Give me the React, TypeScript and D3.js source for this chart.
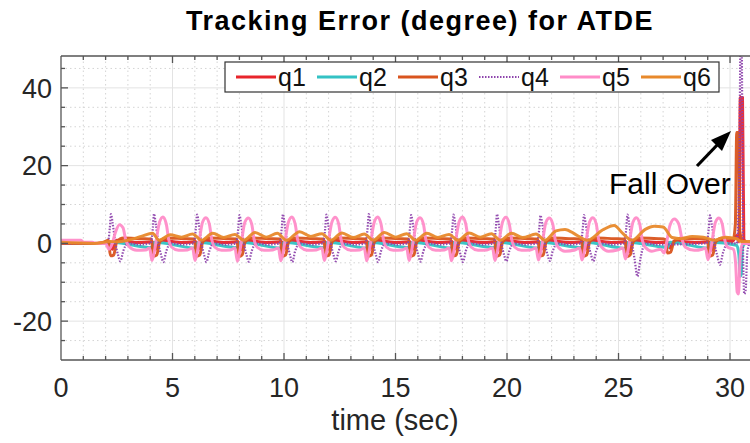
import React, { useEffect, useRef } from 'react';
import * as d3 from 'd3';

// series labels and colours
const seriesNames = ['q1', 'q2', 'q3', 'q4', 'q5', 'q6'];
const seriesColors = ['#e8242b', '#33c2c4', '#d9541e', '#8e44ad', '#ff8cc8', '#e8892b'];

const xTicks = [0, 5, 10, 15, 20, 25, 30];
const yTicks = [-20, 0, 20, 40];

// [time (sec), error (degree)]
const q1: [number, number][] = [
  [0, 0], [1.5, 0], [2.2, 0.3], [2.3, -1.5], [2.5, 0.8], [3.5, 0.2], [4.1, 0.4], [4.22, -1.6], [4.45, 0.8],
  [5.5, 0.2], [6.05, 0.4], [6.15, -1.5], [6.4, 0.8], [7.4, 0.2], [7.95, 0.4], [8.05, -1.7], [8.3, 0.8],
  [9.3, 0.2], [9.9, 0.4], [10.0, -1.5], [10.25, 0.8], [11.3, 0.2], [11.85, 0.4], [11.95, -1.6], [12.2, 0.8],
  [13.2, 0.2], [13.75, 0.4], [13.85, -1.5], [14.1, 0.8], [15.1, 0.2], [15.65, 0.4], [15.75, -1.6], [16.0, 0.8],
  [17.0, 0.2], [17.55, 0.4], [17.65, -1.5], [17.9, 0.8], [19.0, 0.2], [19.5, 0.4], [19.6, -1.7], [19.85, 0.8],
  [20.9, 0.2], [21.45, 0.4], [21.55, -1.5], [21.8, 0.8], [22.9, 0.2], [23.4, 0.4], [23.5, -1.6], [23.75, 0.8],
  [24.8, 0.2], [25.35, 0.4], [25.45, -2.2], [25.7, 0.8], [26.8, 0.2], [27.2, 0.3], [27.3, -1.2], [27.5, 0.6],
  [28.5, 0.2], [29.05, 0.4], [29.15, -1.8], [29.4, 0.8], [30.1, 0.5], [30.3, 2], [30.4, 0.5],
  [30.46, 37.5], [30.56, 37.5], [30.62, 1], [30.8, 0], [31.6, 0],
];

const q2: [number, number][] = [
  [0, 0], [1.8, 0], [2.3, 0.3], [4.1, -1.1], [4.2, 0.3], [6.05, -1.2], [6.15, 0.3], [7.95, -1.1], [8.05, 0.3],
  [9.9, -1.2], [10.0, 0.3], [11.85, -1.1], [11.95, 0.3], [13.75, -1.2], [13.85, 0.3], [15.65, -1.1],
  [15.75, 0.3], [17.55, -1.2], [17.65, 0.3], [19.5, -1.1], [19.6, 0.3], [21.45, -1.2], [21.55, 0.3],
  [23.4, -1.1], [23.5, 0.3], [25.35, -1.3], [25.45, 0.3], [27.2, -1.0], [27.3, 0.3], [29.05, -1.2],
  [29.15, 0.3], [30.3, -0.5], [30.4, -3], [30.45, -8.5], [30.5, -8], [30.56, -1], [30.7, 0], [31.6, 0],
];

const q3: [number, number][] = [
  [0, 0], [1.8, 0], [2.12, 0.8], [2.22, -3.2], [2.36, -3], [2.5, 0.4], [2.8, 1.4], [3.6, 1.2],
  [4.05, 1.1], [4.15, -3.3], [4.29, -3], [4.43, 0.4], [4.73, 1.4], [5.5, 1.2],
  [5.98, 1.1], [6.08, -3.3], [6.22, -3], [6.36, 0.4], [6.66, 1.4], [7.4, 1.2],
  [7.88, 1.1], [7.98, -3.4], [8.12, -3], [8.26, 0.4], [8.56, 1.4], [9.3, 1.2],
  [9.83, 1.1], [9.93, -3.3], [10.07, -3], [10.21, 0.4], [10.51, 1.4], [11.3, 1.2],
  [11.78, 1.1], [11.88, -3.2], [12.02, -3], [12.16, 0.4], [12.46, 1.4], [13.2, 1.2],
  [13.68, 1.1], [13.78, -3.3], [13.92, -3], [14.06, 0.4], [14.36, 1.4], [15.1, 1.2],
  [15.58, 1.1], [15.68, -3.3], [15.82, -3], [15.96, 0.4], [16.26, 1.4], [17.0, 1.2],
  [17.48, 1.1], [17.58, -3.2], [17.72, -3], [17.86, 0.4], [18.16, 1.4], [19.0, 1.2],
  [19.43, 1.1], [19.53, -3.3], [19.67, -3], [19.81, 0.4], [20.11, 1.4], [20.9, 1.2],
  [21.38, 1.1], [21.48, -3.2], [21.62, -3], [21.76, 0.4], [22.06, 1.4], [22.9, 1.2],
  [23.33, 1.1], [23.43, -3.3], [23.57, -3], [23.71, 0.4], [24.01, 1.4], [24.8, 1.2],
  [25.28, 1.1], [25.38, -3.4], [25.52, -3], [25.66, 0.4], [25.96, 1.4], [26.8, 1.2],
  [27.1, 1.0], [27.2, -2.5], [27.34, -2.2], [27.48, 0.4], [27.78, 1.3], [28.6, 1.2],
  [28.98, 1.1], [29.08, -3.3], [29.22, -3], [29.36, 0.4], [29.66, 1.4], [30.15, 1.2],
  [30.24, 5], [30.3, 28.5], [30.38, 28.5], [30.44, 3], [30.6, 0], [31.6, 0],
];

const q4: [number, number][] = [
  [0, 0], [1.0, 0], [2.09, 0], [2.19, 4], [2.24, 7.5], [2.32, 5], [2.44, 0], [2.56, -3], [2.66, -4.6], [2.79, -2], [2.99, 0], [3.54, -0.3],
  [4.02, 0], [4.12, 4], [4.17, 7.6], [4.25, 5], [4.37, 0], [4.49, -3], [4.59, -4.8], [4.72, -2], [4.92, 0], [5.47, -0.3],
  [5.95, 0], [6.05, 4], [6.10, 7.4], [6.18, 5], [6.30, 0], [6.42, -3], [6.52, -4.8], [6.65, -2], [6.85, 0], [7.40, -0.3],
  [7.85, 0], [7.95, 4], [8.00, 7.3], [8.08, 5], [8.20, 0], [8.32, -3], [8.42, -4.7], [8.55, -2], [8.75, 0], [9.30, -0.3],
  [9.80, 0], [9.90, 4], [9.95, 7.5], [10.03, 5], [10.15, 0], [10.27, -3], [10.37, -4.8], [10.50, -2], [10.70, 0], [11.25, -0.3],
  [11.75, 0], [11.85, 4], [11.90, 7.4], [11.98, 5], [12.10, 0], [12.22, -3], [12.32, -4.6], [12.45, -2], [12.65, 0], [13.20, -0.3],
  [13.65, 0], [13.75, 4], [13.80, 7.5], [13.88, 5], [14.00, 0], [14.12, -3], [14.22, -4.8], [14.35, -2], [14.55, 0], [15.10, -0.3],
  [15.55, 0], [15.65, 4], [15.70, 7.3], [15.78, 5], [15.90, 0], [16.02, -3], [16.12, -4.7], [16.25, -2], [16.45, 0], [17.00, -0.3],
  [17.45, 0], [17.55, 4], [17.60, 7.4], [17.68, 5], [17.80, 0], [17.92, -3], [18.02, -4.8], [18.15, -2], [18.35, 0], [18.90, -0.3],
  [19.40, 0], [19.50, 4], [19.55, 7.5], [19.63, 5], [19.75, 0], [19.87, -3], [19.97, -4.6], [20.10, -2], [20.30, 0], [20.85, -0.3],
  [21.35, 0], [21.45, 4], [21.50, 7.2], [21.58, 5], [21.70, 0], [21.82, -3], [21.92, -4.5], [22.05, -2], [22.25, 0], [22.80, -0.3],
  [23.30, 0], [23.40, 4], [23.45, 7.3], [23.53, 5], [23.65, 0], [23.77, -3], [23.87, -4.6], [24.00, -2], [24.20, 0], [24.75, -0.3],
  [25.25, 0], [25.35, 4], [25.40, 7.4], [25.48, 5], [25.60, 0], [25.72, -4], [25.85, -8.5], [25.98, -4], [26.20, 0], [26.75, -0.3],
  [28.95, 0], [29.05, 4], [29.10, 7.2], [29.18, 5], [29.30, 0], [29.42, -3], [29.55, -5.5], [29.68, -2.5], [29.90, 0], [30.30, 0],
  [30.42, 20], [30.47, 52], [30.52, 52], [30.58, 0], [30.64, -13], [30.7, -12], [30.78, -2], [30.9, 0], [31.6, 0],
];

const q5: [number, number][] = [
  [0, 0.8], [0.9, 0.8], [1.0, 0.3], [1.4, 0.3], [1.6, 0], [2.0, 0], [2.15, -1.5], [2.3, 0], [2.45, 3], [2.62, 4.8], [2.78, 4],
  [2.9, 1], [3.05, -0.8], [3.4, -1.8], [3.8, -1.7],
  [3.97, -1.2], [4.08, -4.4], [4.19, -2], [4.29, 1.5], [4.42, 5.5], [4.57, 6.8], [4.72, 5], [4.83, 1], [4.97, -1], [5.27, -1.8], [5.67, -1.7],
  [5.90, -1.2], [6.01, -4.4], [6.12, -2], [6.22, 1.5], [6.35, 5.5], [6.50, 6.6], [6.65, 5], [6.76, 1], [6.90, -1], [7.20, -1.8], [7.60, -1.7],
  [7.80, -1.2], [7.91, -4.6], [8.02, -2], [8.12, 1.5], [8.25, 5.5], [8.40, 6.5], [8.55, 5], [8.66, 1], [8.80, -1], [9.10, -1.8], [9.50, -1.7],
  [9.75, -1.2], [9.86, -4.5], [9.97, -2], [10.07, 1.5], [10.20, 5.5], [10.35, 6.8], [10.50, 5], [10.61, 1], [10.75, -1], [11.05, -1.8], [11.45, -1.7],
  [11.70, -1.2], [11.81, -4.4], [11.92, -2], [12.02, 1.5], [12.15, 5.5], [12.30, 6.7], [12.45, 5], [12.56, 1], [12.70, -1], [13.00, -1.8], [13.40, -1.7],
  [13.60, -1.2], [13.71, -4.5], [13.82, -2], [13.92, 1.5], [14.05, 5.5], [14.20, 6.8], [14.35, 5], [14.46, 1], [14.60, -1], [14.90, -1.8], [15.30, -1.7],
  [15.50, -1.2], [15.61, -4.4], [15.72, -2], [15.82, 1.5], [15.95, 5.5], [16.10, 6.6], [16.25, 5], [16.36, 1], [16.50, -1], [16.80, -1.8], [17.20, -1.7],
  [17.40, -1.2], [17.51, -4.5], [17.62, -2], [17.72, 1.5], [17.85, 5.5], [18.00, 6.8], [18.15, 5], [18.26, 1], [18.40, -1], [18.70, -1.8], [19.10, -1.7],
  [19.35, -1.2], [19.46, -4.4], [19.57, -2], [19.67, 1.5], [19.80, 5.5], [19.95, 6.7], [20.10, 5], [20.21, 1], [20.35, -1], [20.65, -1.8], [21.05, -1.7],
  [21.30, -1.2], [21.41, -4.3], [21.52, -2], [21.62, 1.5], [21.75, 5.5], [21.90, 6.5], [22.05, 5], [22.16, 1], [22.30, -1], [22.60, -2], [23.05, -1.7],
  [23.25, -1.2], [23.36, -4.3], [23.47, -2], [23.57, 1.5], [23.70, 5.5], [23.85, 6.6], [24.00, 5], [24.11, 1], [24.25, -1], [24.55, -2], [24.95, -1.7],
  [25.20, -1.2], [25.31, -4], [25.42, -2], [25.52, 1.5], [25.65, 5.5], [25.80, 6.6], [25.95, 5], [26.06, 1], [26.20, -1], [26.50, -2], [26.90, -1.5],
  [27.05, -2.5], [27.15, 0], [27.3, 4.5], [27.5, 6.3], [27.7, 5], [27.85, 1], [28.0, -1], [28.4, -1.8], [28.75, -1.5],
  [28.90, -1.2], [29.01, -4.2], [29.12, -2], [29.22, 1.5], [29.35, 5.5], [29.50, 6.5], [29.65, 5], [29.76, 1], [29.90, -1], [30.15, -1.5],
  [30.25, -5], [30.32, -12.5], [30.38, -13], [30.45, -4], [30.55, 0], [31.6, 0],
];

const q6: [number, number][] = [
  [0, 0.3], [1.5, 0], [2.2, 0.5], [2.5, 0.4], [3.0, 0.8], [3.6, 1.8], [4.1, 2.6], [4.4, 0.8], [4.9, 2.2],
  [5.4, 1.6], [5.9, 2.4], [6.3, 0.8], [6.8, 2.6], [7.3, 1.5], [7.8, 2.3], [8.2, 0.8], [8.7, 2.8],
  [9.2, 1.6], [9.7, 2.6], [10.1, 0.8], [10.7, 3.0], [11.2, 1.8], [11.7, 2.5], [12.1, 0.8], [12.6, 2.7],
  [13.1, 1.5], [13.6, 2.4], [14.0, 0.8], [14.5, 2.8], [15.0, 1.6], [15.5, 2.5], [15.9, 0.8], [16.4, 2.6],
  [16.9, 1.5], [17.4, 2.3], [17.8, 0.8], [18.3, 2.7], [18.8, 1.6], [19.3, 2.5], [19.7, 0.8], [20.2, 2.6],
  [20.7, 1.5], [21.3, 2.4], [21.7, 0.8], [22.2, 3.2], [22.6, 3.6], [23.1, 2.2], [23.6, 0.8], [24.3, 3.5],
  [24.8, 4.6], [25.2, 2.5], [25.6, 0.8], [26.2, 3.6], [26.6, 4.4], [27.0, 4.2], [27.4, 1.5], [27.8, 1.2],
  [28.3, 1.8], [28.8, 1.6], [29.3, 0.8], [29.8, 1.6], [30.3, 1.2], [30.5, 0.5], [31.6, 0.5],
];

const seriesData = [q1, q2, q3, q4, q5, q6];

const W = 750;
const H = 443;

export default function App() {
  const ref = useRef<SVGSVGElement | null>(null);

  useEffect(() => {
    const svg = d3.select(ref.current);
    svg.selectAll('*').remove();

    const x = d3.scaleLinear().domain([0, 31.6]).range([61, 765.7]);
    const y = d3.scaleLinear().domain([-30, 48.2]).range([360, 56]);
    const [x0, x1] = x.range();
    const [y0, y1] = y.range();
    const font = 'Liberation Sans, Arial, Helvetica, sans-serif';

    svg.append('rect').attr('width', W).attr('height', H).attr('fill', '#fff');

    svg.append('defs').append('clipPath').attr('id', 'plot-clip')
      .append('rect').attr('x', x0).attr('y', y1).attr('width', x1 - x0).attr('height', y0 - y1);

    // grid
    const grid = svg.append('g');
    const minorX = d3.range(1, 32).filter(v => v % 5 !== 0);
    const minorY = d3.range(-25, 48, 5).filter(v => v % 20 !== 0);
    grid.selectAll('.mx').data(minorX).enter().append('line')
      .attr('x1', d => x(d)).attr('x2', d => x(d)).attr('y1', y0).attr('y2', y1)
      .attr('stroke', '#d4d4d4').attr('stroke-width', 1).attr('stroke-dasharray', '1.5,3');
    grid.selectAll('.my').data(minorY).enter().append('line')
      .attr('x1', x0).attr('x2', x1).attr('y1', d => y(d)).attr('y2', d => y(d))
      .attr('stroke', '#d4d4d4').attr('stroke-width', 1).attr('stroke-dasharray', '1.5,3');
    grid.selectAll('.gx').data(xTicks.filter(v => v > 0)).enter().append('line')
      .attr('x1', d => x(d)).attr('x2', d => x(d)).attr('y1', y0).attr('y2', y1)
      .attr('stroke', '#e3e3e3').attr('stroke-width', 1);
    grid.selectAll('.gy').data(yTicks).enter().append('line')
      .attr('x1', x0).attr('x2', x1).attr('y1', d => y(d)).attr('y2', d => y(d))
      .attr('stroke', '#e3e3e3').attr('stroke-width', 1);

    // series
    const line = d3.line<[number, number]>()
      .x(d => x(d[0]))
      .y(d => y(d[1]))
      .curve(d3.curveMonotoneX);
    const plot = svg.append('g').attr('clip-path', 'url(#plot-clip)');
    seriesData.forEach((data, i) => {
      plot.append('path')
        .datum(data)
        .attr('d', line)
        .attr('fill', 'none')
        .attr('stroke', seriesColors[i])
        .attr('stroke-width', i === 3 ? 2.2 : 3)
        .attr('stroke-dasharray', i === 3 ? '1.5,1.5' : null)
        .attr('stroke-linejoin', 'round')
        .attr('opacity', 0.95);
    });

    // axes frame with ticks
    const axisColor = '#555';
    const frame = svg.append('g').attr('stroke', axisColor).attr('stroke-width', 1.3);
    frame.append('line').attr('x1', x0).attr('x2', x1).attr('y1', y0).attr('y2', y0);
    frame.append('line').attr('x1', x0).attr('x2', x1).attr('y1', y1).attr('y2', y1);
    frame.append('line').attr('x1', x0).attr('x2', x0).attr('y1', y0).attr('y2', y1);
    const allX = d3.range(1, 32);
    allX.forEach(v => {
      const len = v % 5 === 0 ? 7 : 4;
      frame.append('line').attr('x1', x(v)).attr('x2', x(v)).attr('y1', y0).attr('y2', y0 - len);
      frame.append('line').attr('x1', x(v)).attr('x2', x(v)).attr('y1', y1).attr('y2', y1 + len);
    });
    d3.range(-25, 48, 5).forEach(v => {
      const len = v % 20 === 0 ? 7 : 4;
      frame.append('line').attr('x1', x0).attr('x2', x0 + len).attr('y1', y(v)).attr('y2', y(v));
    });

    // tick labels
    svg.selectAll('.xl').data(xTicks).enter().append('text')
      .attr('x', d => x(d)).attr('y', 397)
      .attr('text-anchor', 'middle')
      .attr('font-family', font).attr('font-size', 27).attr('fill', '#262626')
      .text(d => String(d));
    svg.selectAll('.yl').data(yTicks).enter().append('text')
      .attr('x', 52).attr('y', d => y(d)).attr('dy', '0.36em')
      .attr('text-anchor', 'end')
      .attr('font-family', font).attr('font-size', 27).attr('fill', '#262626')
      .text(d => String(d));

    svg.append('text')
      .attr('x', 395).attr('y', 430).attr('text-anchor', 'middle')
      .attr('font-family', font).attr('font-size', 29).attr('fill', '#262626')
      .text('time (sec)');

    svg.append('text')
      .attr('x', 420).attr('y', 30).attr('text-anchor', 'middle')
      .attr('font-family', font).attr('font-size', 27).attr('font-weight', 'bold')
      .attr('letter-spacing', 1.5).attr('fill', '#000')
      .text('Tracking Error (degree) for ATDE');

    // legend
    const lg = svg.append('g');
    lg.append('rect').attr('x', 225).attr('y', 62).attr('width', 494).attr('height', 30)
      .attr('fill', '#fff').attr('stroke', '#333').attr('stroke-width', 1.2);
    seriesNames.forEach((name, i) => {
      const lx = 236 + i * 81;
      lg.append('line').attr('x1', lx).attr('x2', lx + 40).attr('y1', 77).attr('y2', 77)
        .attr('stroke', seriesColors[i]).attr('stroke-width', i === 3 ? 2.2 : 3)
        .attr('stroke-dasharray', i === 3 ? '1.5,1.5' : null);
      lg.append('text').attr('x', lx + 42).attr('y', 86)
        .attr('font-family', font).attr('font-size', 25).attr('fill', '#111')
        .text(name);
    });

    // annotation
    svg.append('text')
      .attr('x', 609).attr('y', 194)
      .attr('font-family', font).attr('font-size', 30).attr('fill', '#000')
      .text('Fall Over');
    svg.append('line').attr('x1', 697).attr('y1', 166).attr('x2', 721).attr('y2', 141)
      .attr('stroke', '#000').attr('stroke-width', 3.2);
    svg.append('path').attr('d', 'M731,131 L711,140 L722,151 Z').attr('fill', '#000');
  }, []);

  return (
    <svg
      ref={ref}
      width={W}
      height={H}
      style={{ position: 'absolute', left: 0, top: 0 }}
    />
  );
}
